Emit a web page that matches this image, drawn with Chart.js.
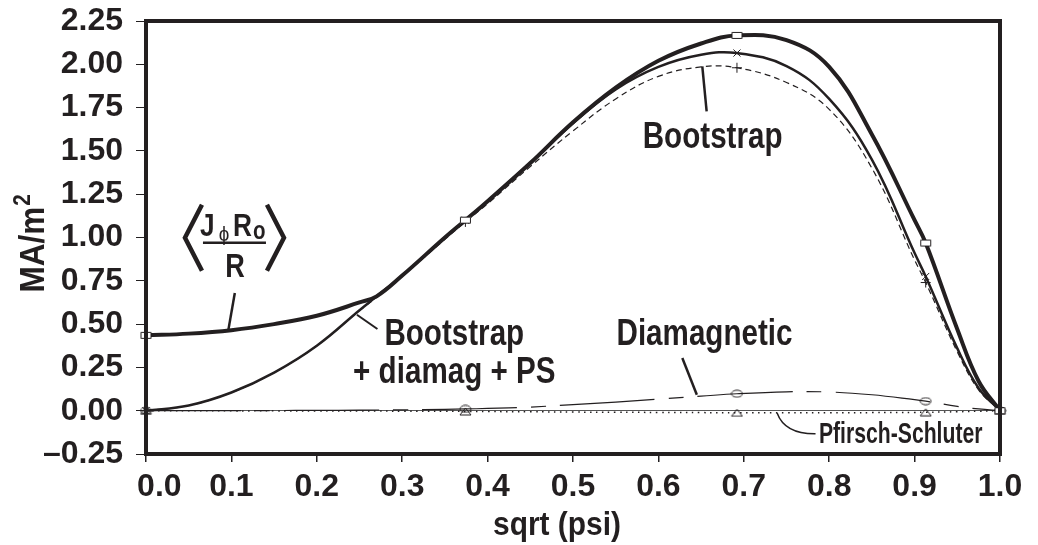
<!DOCTYPE html>
<html>
<head>
<meta charset="utf-8">
<script src="https://cdn.jsdelivr.net/npm/chart.js@4.4.1/dist/chart.umd.min.js"></script>
<style>
  html, body { margin: 0; padding: 0; background: #fff; }
  canvas { display: block; }
</style>
</head>
<body>
<canvas id="currentChart" width="1038" height="545"></canvas>
<script>
// radial grid, sqrt(psi)
const psi = [0, 0.05, 0.1, 0.15, 0.2, 0.25, 0.27, 0.3, 0.35, 0.374, 0.4, 0.45, 0.5, 0.55, 0.6, 0.65, 0.692, 0.75, 0.8, 0.85, 0.9, 0.913, 0.95, 0.975, 1.0];

// MA/m^2
const totalJ    = [0.435, 0.445, 0.465, 0.500, 0.548, 0.625, 0.660, 0.780, 1.000, 1.100, 1.210, 1.430, 1.665, 1.865, 2.020, 2.120, 2.167, 2.140, 1.985, 1.595, 1.100, 0.968, 0.470, 0.170, 0];
const bsDiaPs   = [0, 0.030, 0.105, 0.220, 0.375, 0.580, 0.660, 0.780, 1.000, 1.100, 1.210, 1.430, 1.660, 1.855, 1.985, 2.055, 2.065, 1.990, 1.800, 1.450, 0.910, 0.775, 0.360, 0.130, 0];
const bootstrap = [0, 0.030, 0.105, 0.220, 0.375, 0.578, 0.655, 0.775, 0.990, 1.090, 1.195, 1.410, 1.615, 1.800, 1.930, 1.985, 1.980, 1.895, 1.740, 1.400, 0.870, 0.740, 0.340, 0.120, 0];
const diamag    = [0, 0, 0, 0.001, 0.002, 0.003, 0.004, 0.005, 0.008, 0.010, 0.013, 0.021, 0.035, 0.050, 0.067, 0.084, 0.098, 0.109, 0.108, 0.092, 0.064, 0.055, 0.025, 0.010, 0];
const pfirsch   = [0, 0, -0.001, -0.001, -0.002, -0.002, -0.002, -0.003, -0.003, -0.004, -0.005, -0.006, -0.008, -0.009, -0.010, -0.011, -0.012, -0.012, -0.012, -0.011, -0.010, -0.009, -0.006, -0.003, 0];

// where the symbols sit on the curves
const markerPsi = [0, 0.374, 0.692, 0.913, 1.0];

const INK = "#231f20";
const FF = "'Liberation Sans', Arial, sans-serif";

function makeMarker(kind) {
    const c = document.createElement("canvas");
    c.width = 13;
    c.height = 9;
    const g = c.getContext("2d");
    g.strokeStyle = INK;
    g.lineWidth = 1;
    g.beginPath();
    if (kind === "rect") {
        g.fillStyle = "#fff";
        g.fillRect(1, 1, 11, 7);
        g.rect(1.5, 1.5, 10, 6);
    } else if (kind === "ellipse") {
        g.ellipse(6.5, 4.5, 5.5, 3.5, 0, 0, Math.PI * 2);
    } else {
        g.moveTo(6.5, 1);
        g.lineTo(12, 8);
        g.lineTo(1, 8);
        g.closePath();
    }
    g.stroke();
    return c;
}

const points = arr => arr.map((v, i) => ({ x: psi[i], y: v }));
const markRadius = ctx => markerPsi.includes(psi[ctx.dataIndex]) ? 5 : 0;

function series(data, width, dash, style) {
    return {
        data: points(data),
        borderColor: INK,
        borderWidth: width,
        borderDash: dash,
        pointStyle: style,
        pointRadius: markRadius,
        pointBorderColor: INK,
        pointBackgroundColor: "rgba(0,0,0,0)",
        pointBorderWidth: 1,
        tension: 0.4,
        clip: false
    };
}

// labels, leaders, frame
const notes = {
    id: "notes",
    afterDraw(chart) {
        const { ctx, chartArea: a, scales: { x, y } } = chart;
        const X = v => x.getPixelForValue(v);
        const Y = v => y.getPixelForValue(v);

        ctx.save();
        ctx.strokeStyle = INK;
        ctx.fillStyle = INK;
        ctx.lineCap = "butt";

        ctx.lineWidth = 4;
        ctx.strokeRect(a.left, a.top, a.right - a.left, a.bottom - a.top);

        const line = (x1, y1, x2, y2, w) => {
            ctx.lineWidth = w;
            ctx.beginPath();
            ctx.moveTo(X(x1), Y(y1));
            ctx.lineTo(X(x2), Y(y2));
            ctx.stroke();
        };
        // narrow bold type, like the condensed face of the original
        const narrow = (s, px, py, size, squeeze, align, weight) => {
            ctx.save();
            ctx.font = `${weight || "bold"} ${size}px ${FF}`;
            ctx.textAlign = align;
            ctx.textBaseline = "alphabetic";
            ctx.translate(px, py);
            ctx.scale(squeeze, 1);
            ctx.fillText(s, 0, 0);
            const w = ctx.measureText(s).width * squeeze;
            ctx.restore();
            return w;
        };

        narrow("Bootstrap", X(0.6635), Y(1.518), 37, 0.8, "center");
        line(0.6514, 1.988, 0.6565, 1.728, 2.5);

        narrow("Bootstrap", X(0.361), Y(0.381), 37, 0.8, "center");
        narrow("+ diamag + PS", X(0.361), Y(0.160), 37, 0.8, "center");
        line(0.247, 0.554, 0.271, 0.472, 2);

        narrow("Diamagnetic", X(0.654), Y(0.381), 37, 0.8, "center");
        line(0.628, 0.304, 0.645, 0.092, 2.5);

        narrow("Pfirsch-Schluter", X(0.788), Y(-0.186), 29, 0.73, "left");
        ctx.lineWidth = 1.5;
        ctx.beginPath();
        ctx.moveTo(X(0.739), Y(-0.013));
        ctx.quadraticCurveTo(X(0.748), Y(-0.135), X(0.784), Y(-0.133));
        ctx.stroke();

        // <J_phi R_o / R>
        const ax = X(0.103), ay = Y(0.999);
        ctx.lineWidth = 4.5;
        ctx.lineJoin = "miter";
        ctx.beginPath();
        ctx.moveTo(ax - 32, ay - 33); ctx.lineTo(ax - 49, ay); ctx.lineTo(ax - 32, ay + 33);
        ctx.moveTo(ax + 33, ay - 33); ctx.lineTo(ax + 50, ay); ctx.lineTo(ax + 33, ay + 33);
        ctx.stroke();
        narrow("J", ax - 34, ay - 2, 32, 0.82, "left");
        narrow("ϕ", ax - 10, ay + 3, 21, 0.9, "center", "normal");
        narrow("R", ax - 1, ay - 2, 32, 0.82, "left");
        narrow("o", ax + 19, ay + 1, 25, 0.82, "left");
        narrow("R", ax + 1, ay + 39, 33, 0.82, "center");
        ctx.lineWidth = 2.5;
        ctx.beginPath();
        ctx.moveTo(ax - 31, ay + 5);
        ctx.lineTo(ax + 32, ay + 5);
        ctx.stroke();
        line(0.104, 0.68, 0.0965, 0.468, 2.5);

        // axis titles
        narrow("sqrt (psi)", (a.left + a.right) / 2 - 16, a.bottom + 81, 34, 0.88, "center");
        ctx.translate(a.left - 102, (a.top + a.bottom) / 2);
        ctx.rotate(-Math.PI / 2);
        const wm = narrow("MA/m", -55, 0, 35, 0.9, "left");
        narrow("2", -55 + wm + 1, -14, 23, 0.9, "left");
        ctx.restore();
    }
};

const tickFont = { family: FF, size: 32, weight: "bold" };

new Chart(document.getElementById("currentChart"), {
    type: "line",
    data: {
        datasets: [
            series(totalJ, 4, [], makeMarker("rect")),
            series(bsDiaPs, 2.5, [], "crossRot"),
            series(bootstrap, 1.2, [6, 4], "cross"),
            series(diamag, 1.2, [95, 14, 15, 14], makeMarker("ellipse")),
            series(pfirsch, 1.5, [1.5, 4.5], makeMarker("triangle"))
        ]
    },
    options: {
        responsive: false,
        animation: false,
        events: [],
        layout: { padding: { top: 21, right: 38, bottom: 0, left: 0 } },
        plugins: {
            legend: { display: false },
            tooltip: { enabled: false }
        },
        scales: {
            x: {
                type: "linear",
                min: 0,
                max: 1,
                afterFit: s => { s.height = 91; s.paddingLeft = 0; s.paddingRight = 0; },
                ticks: {
                    stepSize: 0.1,
                    color: INK,
                    font: tickFont,
                    padding: 6,
                    autoSkip: false,
                    // first label sits a little right of its tick, clear of the corner
                    callback: v => v === 0 ? "\u00a0\u00a0\u00a00.0" : v.toFixed(1)
                },
                grid: { drawOnChartArea: false, tickLength: 8, tickColor: INK, lineWidth: 1.5 },
                border: { display: false }
            },
            y: {
                min: -0.25,
                max: 2.25,
                afterFit: s => { s.width = 146; s.paddingTop = 0; s.paddingBottom = 0; },
                ticks: {
                    stepSize: 0.25,
                    color: INK,
                    font: tickFont,
                    padding: 13,
                    autoSkip: false,
                    callback: v => v < 0 ? "–" + Math.abs(v).toFixed(2) : v.toFixed(2)
                },
                grid: {
                    color: c => c.tick && c.tick.value === 0 ? "#555" : "rgba(0,0,0,0)",
                    tickColor: INK,
                    tickLength: 10,
                    lineWidth: 1
                },
                border: { display: false }
            }
        }
    },
    plugins: [notes]
});
</script>
</body>
</html>
